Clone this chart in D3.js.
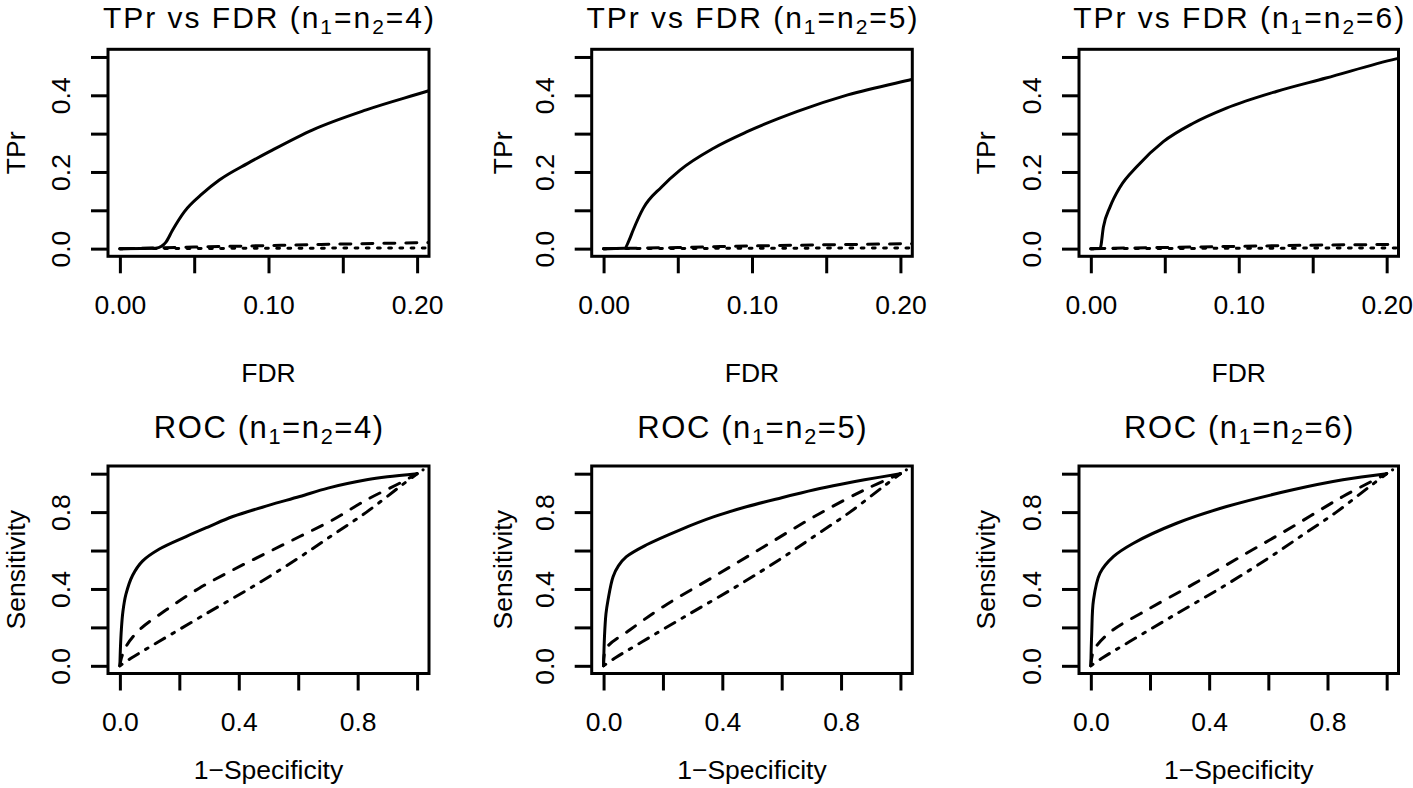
<!DOCTYPE html>
<html><head><meta charset="utf-8">
<script src="https://cdn.jsdelivr.net/npm/d3@7"></script>
<style>
body{margin:0;background:#fff}
svg{display:block}
text{font-family:"Liberation Sans",Arial,Helvetica,sans-serif;fill:#000}
</style>
</head><body>
<svg id="c" width="1413" height="788"></svg>
<script>
// ---------- data ----------
const sampleSizes = [4, 5, 6];
const fdrTicks = [0, 0.05, 0.1, 0.15, 0.2];
const fdrTickLabels = ["0.00", "", "0.10", "", "0.20"];
const tprTicks = [0, 0.1, 0.2, 0.3, 0.4, 0.5];
const tprTickLabels = ["0.0", "", "0.2", "", "0.4", ""];
const rocTicks = [0, 0.2, 0.4, 0.6, 0.8, 1];
const rocTickLabels = ["0.0", "", "0.4", "", "0.8", ""];

// TPr vs FDR, [FDR, TPr]
const tprSolid4 = [[0,0],[0.024,0.001],[0.028,0.006],[0.031,0.017],[0.0354,0.048],[0.0433,0.096],[0.0557,0.144],[0.0669,0.179],[0.086,0.2225],[0.1006,0.253],[0.1298,0.31],[0.1658,0.362],[0.2062,0.41],[0.212,0.417]];
const tprDashed4 = [[0,0],[0.05,0.004],[0.1,0.008],[0.15,0.012],[0.212,0.016]];
const tprDotted4 = [[0,0],[0.212,0.002]];
const tprSolid5 = [[0,0],[0.0142,0.001],[0.017,0.02],[0.0199,0.048],[0.0267,0.105],[0.0391,0.161],[0.0515,0.205],[0.0741,0.262],[0.0967,0.305],[0.1306,0.358],[0.1645,0.401],[0.2075,0.441],[0.212,0.445]];
const tprDashed5 = [[0,0],[0.05,0.003],[0.1,0.007],[0.15,0.01],[0.212,0.013]];
const tprDotted5 = [[0,0],[0.212,0.002]];
const tprSolid6 = [[0,0],[0.0063,0.001],[0.0085,0.0565],[0.013,0.109],[0.0198,0.161],[0.031,0.2136],[0.049,0.279],[0.0692,0.327],[0.0917,0.3665],[0.1254,0.41],[0.159,0.445],[0.2063,0.495],[0.212,0.5]];
const tprDashed6 = [[0,0],[0.05,0.003],[0.1,0.006],[0.15,0.009],[0.212,0.011]];
const tprDotted6 = [[0,0],[0.212,0.002]];

// ROC, [1-Specificity, Sensitivity]
const rocSolid4 = [[0,0],[0.002,0.1],[0.005,0.19],[0.01,0.28],[0.02,0.37],[0.0425,0.47],[0.076,0.545],[0.133,0.608],[0.2226,0.673],[0.3,0.725],[0.38,0.777],[0.5,0.835],[0.605,0.881],[0.7,0.925],[0.83,0.968],[0.9,0.984],[1,1]];
const rocDashed4 = [[0,0],[0.005,0.04],[0.02,0.099],[0.065,0.186],[0.155,0.29],[0.267,0.404],[0.38,0.499],[0.492,0.586],[0.605,0.673],[0.717,0.76],[0.83,0.864],[0.942,0.951],[1,1]];
const rocDotDash4 = [[0,0],[0.04,0.042],[0.13,0.125],[0.28,0.262],[0.45,0.415],[0.6,0.56],[0.72,0.685],[0.83,0.8],[0.94,0.93],[1,1]];
const rocSolid5 = [[0,0],[0.003,0.15],[0.008,0.27],[0.015,0.343],[0.032,0.464],[0.05,0.52],[0.077,0.568],[0.145,0.63],[0.258,0.708],[0.37,0.775],[0.484,0.829],[0.6,0.875],[0.71,0.916],[0.8,0.945],[0.879,0.968],[1,1]];
const rocDashed5 = [[0,0],[0.009,0.091],[0.088,0.186],[0.201,0.308],[0.371,0.464],[0.54,0.62],[0.71,0.777],[0.879,0.916],[1,1]];
const rocDotDash5 = [[0,0],[0.04,0.042],[0.13,0.125],[0.28,0.262],[0.45,0.415],[0.6,0.56],[0.72,0.685],[0.83,0.8],[0.94,0.93],[1,1]];
const rocSolid6 = [[0,0],[0.003,0.169],[0.009,0.343],[0.031,0.482],[0.076,0.568],[0.144,0.638],[0.29,0.742],[0.459,0.829],[0.683,0.916],[0.852,0.968],[1,1]];
const rocDashed6 = [[0,0],[0.01,0.08],[0.065,0.175],[0.189,0.29],[0.346,0.425],[0.514,0.575],[0.683,0.725],[0.852,0.881],[1,1]];
const rocDotDash6 = [[0,0],[0.04,0.042],[0.13,0.125],[0.28,0.262],[0.45,0.415],[0.6,0.56],[0.72,0.685],[0.83,0.8],[0.94,0.93],[1,1]];
const rocCornerDot = [1.02, 1.02];

const tprSeries = [
  [tprSolid4, tprDashed4, tprDotted4],
  [tprSolid5, tprDashed5, tprDotted5],
  [tprSolid6, tprDashed6, tprDotted6]
];
const rocSeries = [
  [rocSolid4, rocDashed4, rocDotDash4],
  [rocSolid5, rocDashed5, rocDotDash5],
  [rocSolid6, rocDashed6, rocDotDash6]
];

// ---------- layout ----------
const colLeft = [108, 591.7, 1079];
const colRight = [429, 912.3, 1398.5];
const rowTop = [49.3, 466];
const rowBottom = [256.3, 673.5];
const ylabX = [24.5, 511.7, 995];
const titleY = [27.5, 438];
const titleSize = [30, 31];
const titleWidth = [333, 231];
const xlabY = [381.5, 779];
const LW = 3;
const dashTPr = [null, "11,11", "2.8,8.4"];
const dashROC = [null, "11,11", "2.8,8.4,11,8.4"];

const svg = d3.select("#c");
svg.append("rect").attr("width", 1413).attr("height", 788).attr("fill", "#fff");

let clipId = 0;
function panel(col, row, cfg) {
  const L = colLeft[col], R = colRight[col], T = rowTop[row], B = rowBottom[row];
  const x = d3.scaleLinear().domain(cfg.xDomain).range([L, R]);
  const y = d3.scaleLinear().domain(cfg.yDomain).range([B, T]);
  const g = svg.append("g");

  const id = "clip" + (clipId++);
  g.append("clipPath").attr("id", id).append("rect")
    .attr("x", L).attr("y", T).attr("width", R - L).attr("height", B - T);

  const line = d3.line().x(d => x(d[0])).y(d => y(d[1])).curve(cfg.curve);
  const lines = g.append("g").attr("clip-path", `url(#${id})`);
  cfg.series.forEach((s, i) => {
    lines.append("path").datum(s).attr("d", line)
      .attr("fill", "none").attr("stroke", "#000").attr("stroke-width", LW)
      .attr("stroke-linecap", "round").attr("stroke-linejoin", "round")
      .attr("stroke-dasharray", cfg.dashes[i]);
  });
  if (cfg.dot) {
    lines.append("circle").attr("cx", x(cfg.dot[0])).attr("cy", y(cfg.dot[1]))
      .attr("r", 1.6).attr("fill", "#000");
  }

  // box
  g.append("rect").attr("x", L).attr("y", T).attr("width", R - L).attr("height", B - T)
    .attr("fill", "none").attr("stroke", "#000").attr("stroke-width", LW);

  // x axis
  const xa = g.append("g").attr("transform", `translate(0,${B})`)
    .call(d3.axisBottom(x).tickValues(cfg.xTicks)
      .tickFormat((d, i) => cfg.xLabels[i]).tickSizeInner(17).tickSizeOuter(0).tickPadding(22));
  xa.select(".domain").remove();
  xa.selectAll("line").attr("stroke", "#000").attr("stroke-width", LW);
  xa.selectAll("text").attr("font-size", 26.5).attr("fill", "#000")
    .attr("font-family", '"Liberation Sans",Arial,Helvetica,sans-serif');

  // y axis
  const ya = g.append("g").attr("transform", `translate(${L},0)`)
    .call(d3.axisLeft(y).tickValues(cfg.yTicks)
      .tickFormat((d, i) => cfg.yLabels[i]).tickSizeInner(17).tickSizeOuter(0));
  ya.select(".domain").remove();
  ya.selectAll("line").attr("stroke", "#000").attr("stroke-width", LW);
  ya.selectAll("text").attr("font-size", 26.5).attr("fill", "#000")
    .attr("font-family", '"Liberation Sans",Arial,Helvetica,sans-serif')
    .attr("transform", "rotate(-90)").attr("x", 0).attr("y", -38).attr("dy", 0)
    .attr("text-anchor", "middle");

  // title with subscripts
  const fs = titleSize[row];
  const t = g.append("text").attr("x", (L + R) / 2).attr("y", titleY[row])
    .attr("text-anchor", "middle").attr("font-size", fs);
  t.append("tspan").text(cfg.main + " (n");
  t.append("tspan").attr("dy", 6).attr("font-size", fs * 0.7).text("1");
  t.append("tspan").attr("dy", -6).text("=n");
  t.append("tspan").attr("dy", 6).attr("font-size", fs * 0.7).text("2");
  t.append("tspan").attr("dy", -6).text("=" + cfg.n + ")");
  const w = t.node().getComputedTextLength();
  const nch = (cfg.main + " (n1=n2=" + cfg.n + ")").length;
  const ls = (titleWidth[row] - w) / nch;
  t.attr("letter-spacing", ls).attr("x", (L + R) / 2 + ls / 2);

  // axis titles
  g.append("text").attr("x", (L + R) / 2).attr("y", xlabY[row])
    .attr("text-anchor", "middle").attr("font-size", 26.5).text(cfg.xlab);
  g.append("text").attr("transform", `translate(${ylabX[col]},${(T + B) / 2}) rotate(-90)`)
    .attr("text-anchor", "middle").attr("font-size", 26.5).text(cfg.ylab);
}

sampleSizes.forEach((n, i) => {
  panel(i, 0, {
    xDomain: [-0.008, 0.208], yDomain: [-0.02, 0.52],
    xTicks: fdrTicks, xLabels: fdrTickLabels, yTicks: tprTicks, yLabels: tprTickLabels,
    series: tprSeries[i], dashes: dashTPr, curve: d3.curveMonotoneX,
    main: "TPr vs FDR", n: n, xlab: "FDR", ylab: "TPr"
  });
  panel(i, 1, {
    xDomain: [-0.04, 1.04], yDomain: [-0.04, 1.04],
    xTicks: rocTicks, xLabels: rocTickLabels, yTicks: rocTicks, yLabels: rocTickLabels,
    series: rocSeries[i], dashes: dashROC, dot: rocCornerDot, curve: d3.curveCatmullRom.alpha(0.5),
    main: "ROC", n: n, xlab: "1\u2212Specificity", ylab: "Sensitivity"
  });
});
</script>
</body></html>
